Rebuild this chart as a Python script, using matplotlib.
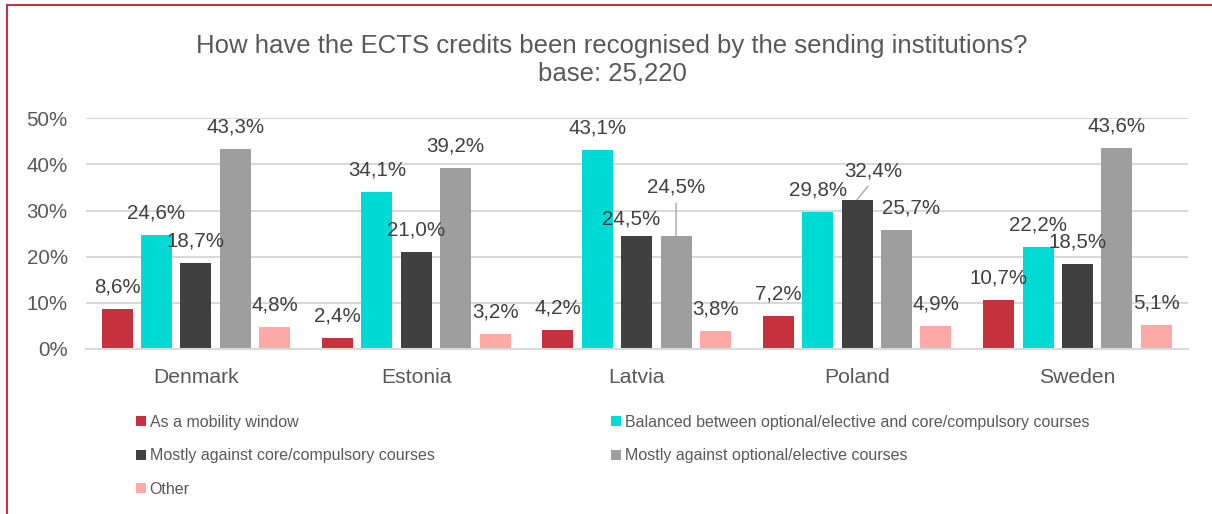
import matplotlib.pyplot as plt
import numpy as np
from matplotlib.patches import Patch
from matplotlib.lines import Line2D

plt.rcParams['font.family'] = ['Liberation Sans', 'DejaVu Sans']

countries = ['Denmark', 'Estonia', 'Latvia', 'Poland', 'Sweden']
series_names = ['As a mobility window',
                'Balanced between optional/elective and core/compulsory courses',
                'Mostly against core/compulsory courses',
                'Mostly against optional/elective courses',
                'Other']
mobility_window = [8.6, 2.4, 4.2, 7.2, 10.7]
balanced = [24.6, 34.1, 43.1, 29.8, 22.2]
core_courses = [18.7, 21.0, 24.5, 32.4, 18.5]
elective_courses = [43.3, 39.2, 24.5, 25.7, 43.6]
other = [4.8, 3.2, 3.8, 4.9, 5.1]
y_ticks = [0, 10, 20, 30, 40, 50]

series = [mobility_window, balanced, core_courses, elective_courses, other]
colors = ['#C5323E', '#00DAD4', '#404040', '#9E9E9E', '#FFA8A8']

# manual label nudges in pixels (dx, dy, leader line), dy positive = up
nudges = {(2, 2): (-6, -5, False),
          (3, 2): (0, 27, True),
          (2, 3): (16, 7, True),
          (3, 3): (15, 0, False)}

fig = plt.figure(figsize=(12.12, 5.14), dpi=100)
ax = fig.add_axes([85.7 / 1212, 165 / 514, 1102 / 1212, 230.7 / 514])

x = np.arange(len(countries))
step = 0.1787
width = 0.1407
px = 0.72  # points per pixel

for i, (vals, col) in enumerate(zip(series, colors)):
    pos = x + (i - 2) * step
    ax.bar(pos, vals, width=width, color=col, zorder=2)
    for j, (xp, v) in enumerate(zip(pos, vals)):
        dx, dy, leader = nudges.get((i, j), (0, 0, False))
        label = f'{v:.1f}%'.replace('.', ',')
        arrow = None
        if leader:
            arrow = dict(arrowstyle='-', color='#A6A6A6', lw=1,
                         shrinkA=3, shrinkB=0, relpos=(0.5, 0))
        ax.annotate(label, xy=(xp, v), xytext=(dx * px, (22 + dy) * px),
                    textcoords='offset points', ha='center', va='center',
                    fontsize=14.8, color='#404040', arrowprops=arrow, zorder=3)

ax.set_xlim(-0.5, len(countries) - 0.5)
ax.set_ylim(0, 50)
ax.set_yticks(y_ticks)
ax.set_yticklabels([f'{t}%' for t in y_ticks])
ax.set_xticks(x)
ax.set_xticklabels(countries)
ax.tick_params(axis='both', length=0, labelsize=14.8, colors='#595959')
ax.tick_params(axis='x', labelsize=15.2, pad=14)
ax.tick_params(axis='y', pad=13)
ax.grid(axis='y', color='#D9D9D9', lw=1.5, zorder=0)
for side in ['top', 'right', 'left']:
    ax.spines[side].set_visible(False)
ax.spines['bottom'].set_color('#D9D9D9')
ax.spines['bottom'].set_linewidth(1.5)

fig.text(0.505, 1 - 46 / 514, 'How have the ECTS credits been recognised by the sending institutions?',
         ha='center', va='center', fontsize=18.5, color='#595959')
fig.text(0.505, 1 - 74 / 514, 'base: 25,220',
         ha='center', va='center', fontsize=18.5, color='#595959')

# legend: first column holds entries 0, 2, 4, second column 1, 3
order = [0, 2, 4, 1, 3]
handles = [Patch(facecolor=colors[k], edgecolor='none') for k in order]
labels = [series_names[k] for k in order]
fig.legend(handles, labels, ncol=2, loc='upper left',
           bbox_to_anchor=(136 / 1212, 1 - 415 / 514), frameon=False,
           fontsize=11.5, handlelength=0.6, handleheight=0.6,
           handletextpad=0.25, columnspacing=11.05, labelspacing=1.15,
           borderpad=0, borderaxespad=0, labelcolor='#595959')

# red frame around the chart
fig.add_artist(Line2D([7 / 1212, 7 / 1212], [0, 1 - 5 / 514],
                      color='#C8323F', lw=1.5, transform=fig.transFigure))
fig.add_artist(Line2D([7 / 1212, 1], [1 - 5 / 514, 1 - 5 / 514],
                      color='#C8323F', lw=1.5, transform=fig.transFigure))

fig.savefig('out.png', dpi=100)
